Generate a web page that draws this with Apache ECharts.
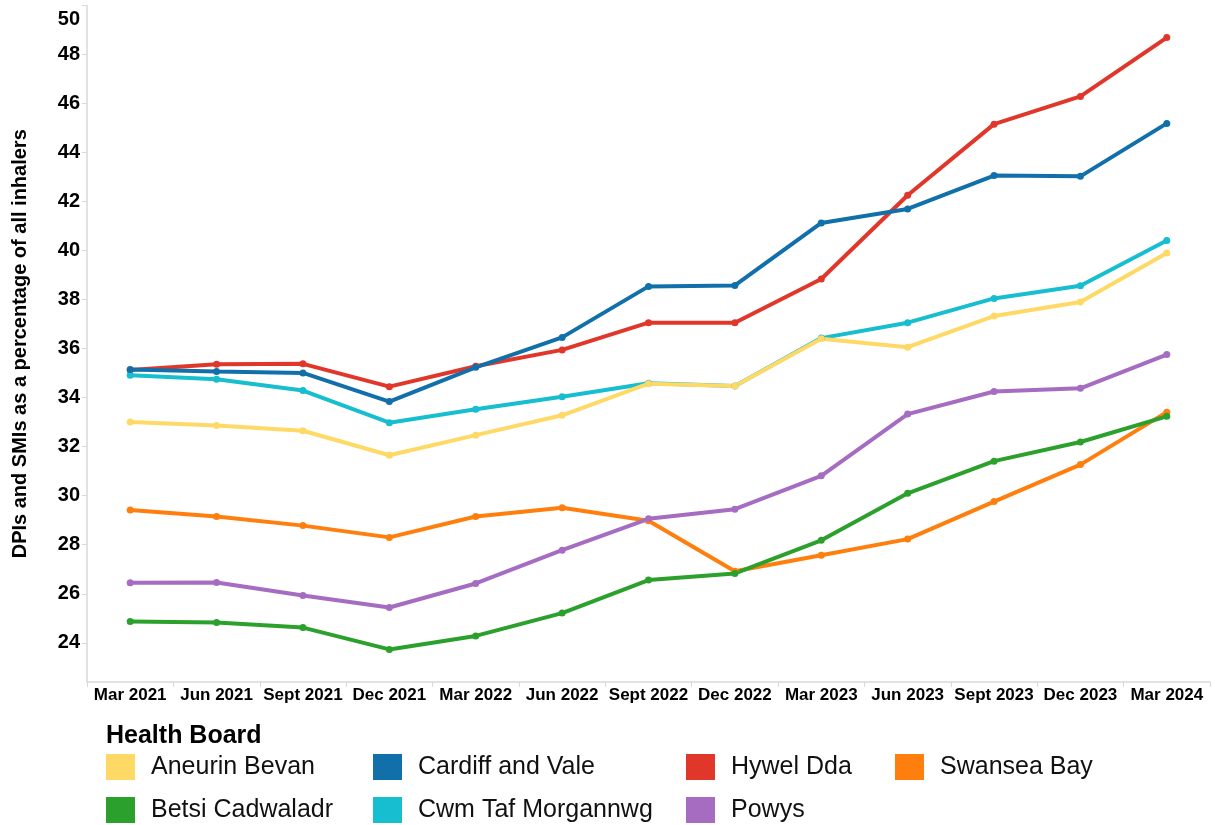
<!DOCTYPE html>
<html lang="en">
<head>
	<meta charset="utf-8">
	<title>DPIs and SMIs by Health Board</title>
	<style>
		html, body { margin: 0; padding: 0; background: #fff; }
		#container { width: 1215px; height: 825px; }
	</style>
</head>
<body>
	<div id="container"></div>
	<script src="https://cdn.jsdelivr.net/npm/echarts@6/dist/echarts.min.js"></script>
	<script>
		// quarters on the x axis
		const categories = ['Mar 2021', 'Jun 2021', 'Sept 2021', 'Dec 2021', 'Mar 2022', 'Jun 2022', 'Sept 2022',
			'Dec 2022', 'Mar 2023', 'Jun 2023', 'Sept 2023', 'Dec 2023', 'Mar 2024'];
		const yTicks = [24, 26, 28, 30, 32, 34, 36, 38, 40, 42, 44, 46, 48, 50];

		// percentages
		const aneurinBevan = [33.01, 32.86, 32.65, 31.65, 32.47, 33.28, 34.57, 34.48, 36.40, 36.06, 37.33, 37.90, 39.90];
		const betsiCadwaladr = [24.87, 24.83, 24.62, 23.73, 24.28, 25.21, 26.56, 26.83, 28.18, 30.10, 31.41, 32.19, 33.24];
		const cardiffAndVale = [35.15, 35.07, 35.01, 33.84, 35.24, 36.46, 38.54, 38.58, 41.13, 41.70, 43.06, 43.03, 45.19];
		const cwmTafMorgannwg = [34.91, 34.75, 34.29, 32.98, 33.53, 34.04, 34.59, 34.48, 36.43, 37.06, 38.05, 38.57, 40.41];
		const hywelDda = [35.13, 35.36, 35.38, 34.45, 35.28, 35.95, 37.06, 37.06, 38.84, 42.26, 45.16, 46.29, 48.69];
		const powys = [26.45, 26.46, 25.93, 25.44, 26.42, 27.78, 29.06, 29.45, 30.81, 33.33, 34.25, 34.38, 35.76];
		const swanseaBay = [29.42, 29.15, 28.78, 28.30, 29.15, 29.51, 28.98, 26.92, 27.57, 28.23, 29.76, 31.27, 33.41];

		// legend columns, as laid out under the chart
		const legendCols = [
			['Aneurin Bevan', 'Betsi Cadwaladr'],
			['Cardiff and Vale', 'Cwm Taf Morgannwg'],
			['Hywel Dda', 'Powys'],
			['Swansea Bay']
		];
		const legendLeft = [106, 373, 686, 895];

		const font = '"Liberation Sans", Arial, sans-serif';

		function line(name, data, color) {
			return {
				name: name,
				type: 'line',
				data: data,
				color: color,
				symbol: 'circle',
				symbolSize: 7,
				lineStyle: { width: 4, color: color },
				itemStyle: { color: color },
				emphasis: { disabled: true },
				animation: false
			};
		}

		let myChart = echarts.init(document.getElementById('container'), null, { renderer: 'canvas' });

		let option = {
			backgroundColor: '#fff',
			title: {
				text: 'Health Board',
				left: 106,
				top: 724,
				padding: 0,
				textStyle: { fontFamily: font, fontSize: 25, fontWeight: 'bold', color: '#000' }
			},
			legend: legendCols.map(function (col, i) {
				return {
					data: col,
					orient: 'vertical',
					left: legendLeft[i],
					top: 754,
					padding: 0,
					icon: 'rect',
					itemWidth: 29,
					itemHeight: 26,
					itemGap: 17,
					selectedMode: false,
					textStyle: { fontFamily: font, fontSize: 25, color: '#111', padding: [0, 0, 0, 11] }
				};
			}),
			grid: { left: 87, right: 5, top: 5.5, bottom: 143, containLabel: false, outerBoundsMode: 'none' },
			xAxis: {
				type: 'category',
				data: categories,
				boundaryGap: true,
				axisLine: { show: true, lineStyle: { color: '#d9d9d9', width: 1.5 } },
				axisTick: { show: true, alignWithLabel: false, length: 5, lineStyle: { color: '#d9d9d9' } },
				axisLabel: { interval: 0, margin: 5, fontFamily: font, fontSize: 17, fontWeight: 'bold', color: '#000' },
				splitLine: { show: false }
			},
			yAxis: {
				type: 'value',
				min: 22.4,
				max: 50,
				name: 'DPIs and SMIs as a percentage of all inhalers',
				nameLocation: 'middle',
				nameGap: 57,
				nameTextStyle: { fontFamily: font, fontSize: 20, fontWeight: 'bold', color: '#000' },
				axisLine: { show: true, lineStyle: { color: '#d9d9d9', width: 1.5 } },
				axisTick: { show: true, length: 5, customValues: yTicks, lineStyle: { color: '#d9d9d9' } },
				axisLabel: {
					customValues: yTicks,
					margin: 7,
					fontFamily: font,
					fontSize: 20,
					fontWeight: 'bold',
					color: '#000',
					formatter: function (v) {
						return v === 50 ? '{top|50}' : String(v);
					},
					rich: {
						top: { fontFamily: font, fontSize: 20, fontWeight: 'bold', color: '#000', padding: [27, 0, 0, 0] }
					}
				},
				splitLine: { show: false }
			},
			series: [
				line('Swansea Bay', swanseaBay, '#ff7f0e'),
				line('Hywel Dda', hywelDda, '#e1372b'),
				line('Cwm Taf Morgannwg', cwmTafMorgannwg, '#17becf'),
				line('Aneurin Bevan', aneurinBevan, '#ffd966'),
				line('Cardiff and Vale', cardiffAndVale, '#1170aa'),
				line('Powys', powys, '#a56cc1'),
				line('Betsi Cadwaladr', betsiCadwaladr, '#2ca02c')
			]
		};

		if (option && typeof option === 'object') {
			myChart.setOption(option);
		}
		window.addEventListener('resize', myChart.resize);
	</script>
</body>
</html>
